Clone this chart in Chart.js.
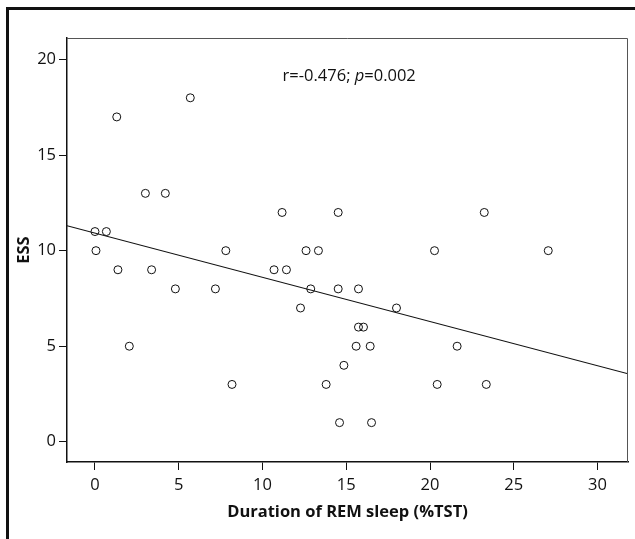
<!DOCTYPE html>
<html>
<head>
<meta charset="utf-8">
<script src="https://cdn.jsdelivr.net/npm/chart.js@4/dist/chart.umd.min.js"></script>
<style>
  html, body { margin: 0; padding: 0; background: #fff; }
  #wrap { position: relative; width: 635px; height: 539px; }
  canvas { display: block; }
</style>
</head>
<body>
<div id="wrap"><canvas id="c" width="635" height="539"></canvas></div>
<script>
// ---- data ----
const remSleepPct = [5.69, 1.30, 3.01, 4.20, 0.00, 0.68, 0.06, 7.81, 1.37, 3.38, 4.80, 7.19, 2.05, 8.18,
  11.17, 14.52, 12.60, 13.34, 10.69, 11.43, 12.88, 14.52, 15.73, 12.27, 18.00, 15.73, 16.03, 15.59,
  16.43, 14.86, 13.80, 14.60, 16.51, 23.24, 20.27, 27.06, 21.62, 20.43, 23.36];
const essScore = [18, 17, 13, 13, 11, 11, 10, 10, 9, 9, 8, 8, 5, 3,
  12, 12, 10, 10, 9, 9, 8, 8, 8, 7, 7, 6, 6, 5,
  5, 4, 3, 1, 1, 12, 10, 10, 5, 3, 3];
const xTicks = [0, 5, 10, 15, 20, 25, 30];
const yTicks = [0, 5, 10, 15, 20];
const fitIntercept = 10.92;
const fitSlope = -0.2314;
const xTitle = 'Duration of REM sleep (%TST)';
const yTitle = 'ESS';
const statText = ['r=-0.476; ', 'p', '=0.002'];

const X_MIN = -1.67, X_MAX = 31.82, Y_MIN = -1.06, Y_MAX = 21.13;
const FONT = "'Open Sans', sans-serif";
const FS = 16.5;

const points = remSleepPct.map((x, i) => ({ x: x, y: essScore[i] }));
const fitLine = [X_MIN, X_MAX].map(x => ({ x: x, y: fitIntercept + fitSlope * x }));

const framePlugin = {
  id: 'frame',
  beforeDraw(chart) {
    const ctx = chart.ctx;
    ctx.save();
    ctx.fillStyle = '#fff';
    ctx.fillRect(0, 0, chart.width, chart.height);
    ctx.strokeStyle = '#111';
    ctx.lineWidth = 3;
    ctx.beginPath();
    ctx.moveTo(7.5, chart.height + 5);
    ctx.lineTo(7.5, 8.5);
    ctx.lineTo(chart.width + 5, 8.5);
    ctx.stroke();
    ctx.restore();
  },
  afterDraw(chart) {
    const a = chart.chartArea;
    const ctx = chart.ctx;
    ctx.save();
    ctx.strokeStyle = '#555';
    ctx.lineWidth = 1;
    ctx.beginPath();
    ctx.moveTo(a.left, a.top + 0.5);
    ctx.lineTo(a.right - 0.5, a.top + 0.5);
    ctx.lineTo(a.right - 0.5, a.bottom);
    ctx.stroke();
    // annotation
    const xs = chart.scales.x, ys = chart.scales.y;
    let px = xs.getPixelForValue(11.2);
    const py = ys.getPixelForValue(19.1);
    ctx.fillStyle = '#111';
    ctx.textBaseline = 'middle';
    ctx.textAlign = 'left';
    statText.forEach((s, i) => {
      ctx.font = (i === 1 ? 'italic ' : '') + FS + 'px ' + FONT;
      ctx.fillText(s, px, py);
      px += ctx.measureText(s).width;
    });
    ctx.restore();
  }
};

new Chart(document.getElementById('c'), {
  type: 'scatter',
  data: {
    datasets: [
      {
        label: 'ESS',
        data: points,
        pointStyle: 'circle',
        pointRadius: 4,
        pointHoverRadius: 4,
        borderWidth: 1,
        borderColor: '#111',
        backgroundColor: 'rgba(255,255,255,0)'
      },
      {
        type: 'line',
        label: 'fit',
        data: fitLine,
        borderColor: '#111',
        borderWidth: 1.2,
        pointRadius: 0,
        fill: false
      }
    ]
  },
  options: {
    responsive: false,
    animation: false,
    events: [],
    layout: { padding: { top: 38, right: 7, left: 0, bottom: 0 } },
    plugins: { legend: { display: false }, tooltip: { enabled: false } },
    scales: {
      x: {
        type: 'linear',
        min: X_MIN, max: X_MAX,
        afterBuildTicks: s => { s.ticks = xTicks.map(v => ({ value: v })); },
        afterFit: s => { s.height = 77; },
        grid: { drawOnChartArea: false, drawTicks: true, tickLength: 8, color: '#111', lineWidth: 1 },
        border: { display: true, color: '#111', width: 1.5 },
        ticks: { color: '#111', font: { family: FONT, size: FS }, padding: 5, maxRotation: 0 },
        title: { display: true, text: xTitle, color: '#111', font: { family: FONT, size: FS, weight: 'bold' }, padding: { top: 4, bottom: 17 } }
      },
      y: {
        type: 'linear',
        min: Y_MIN, max: Y_MAX,
        afterBuildTicks: s => { s.ticks = yTicks.map(v => ({ value: v })); },
        afterFit: s => { s.width = 67; },
        grid: { drawOnChartArea: false, drawTicks: true, tickLength: 8, color: '#111', lineWidth: 1 },
        border: { display: true, color: '#111', width: 1.5 },
        ticks: { color: '#111', font: { family: FONT, size: FS }, padding: 3 },
        title: { display: true, text: yTitle, color: '#111', font: { family: FONT, size: FS, weight: 'bold' }, padding: { top: 14, bottom: 4 } }
      }
    }
  },
  plugins: [framePlugin]
});
</script>
</body>
</html>
